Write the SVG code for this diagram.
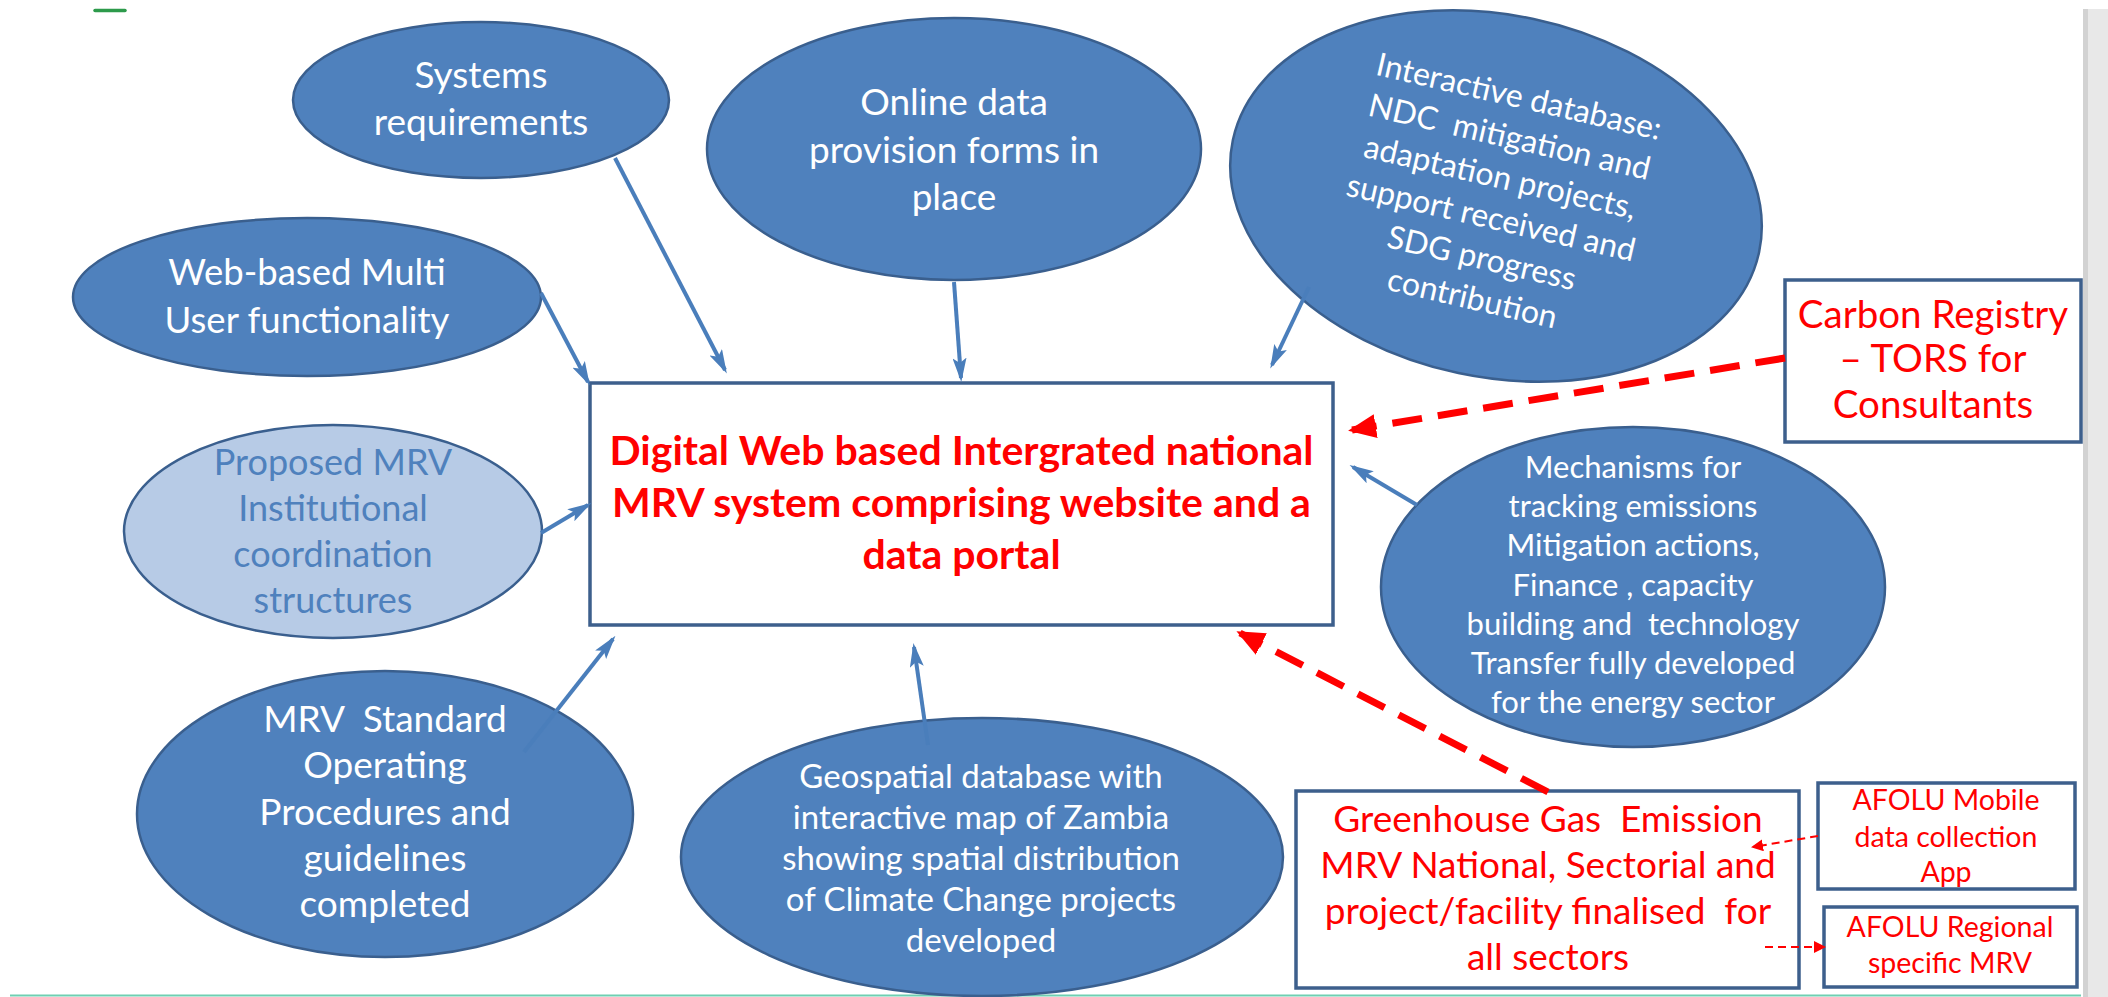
<svg xmlns="http://www.w3.org/2000/svg" width="2108" height="997" viewBox="0 0 2108 997">
<style>
.el{fill:#4f81bd;stroke:#3a5f8e;stroke-width:2.5}
.ell{fill:#b7cbe6;stroke:#3a5f8e;stroke-width:2.5}
.box{fill:#fff;stroke:#3d5f8c;stroke-width:3.5}
.t{font-family:Lato,'Liberation Sans',sans-serif;text-anchor:middle}
.w{fill:#ffffff}
.r{fill:#ff0000}
.lb{fill:#4f81bd}
.b{font-weight:bold}
.ba{stroke:#4a7ebb;stroke-width:4;fill:none}
.rd{stroke:#ff0000;stroke-width:7;fill:none;stroke-dasharray:30 16}
.rs{stroke:#ff0000;stroke-width:2;fill:none;stroke-dasharray:8 5}
</style>
<defs>
<marker id="ab" markerUnits="userSpaceOnUse" markerWidth="24" markerHeight="14" refX="20" refY="7" orient="auto"><path d="M0,0 L24,7 L0,14 L5,7 z" fill="#4a7ebb"/></marker>
<marker id="ar" markerUnits="userSpaceOnUse" markerWidth="28" markerHeight="24" refX="24" refY="12" orient="auto"><path d="M0,0 L28,12 L0,24 z" fill="#ff0000"/></marker>
<marker id="as" markerUnits="userSpaceOnUse" markerWidth="12" markerHeight="12" refX="10" refY="6" orient="auto"><path d="M0,0 L12,6 L0,12 z" fill="#ff0000"/></marker>
</defs>
<rect x="0" y="0" width="2108" height="997" fill="#ffffff"/>
<rect x="2083" y="9" width="25" height="988" fill="#e8e8e8"/>
<rect x="2083" y="9" width="5" height="988" fill="#d2d2d2"/>
<line x1="10" y1="995.5" x2="2081" y2="995.5" stroke="#6fcfb2" stroke-width="2"/>
<line x1="95" y1="10.5" x2="125" y2="10.5" stroke="#2d9a4b" stroke-width="3.5" stroke-linecap="round"/>

<g id="systems">
<ellipse class="el" cx="481" cy="100" rx="188" ry="78"/>
<text class="t w" font-size="37"><tspan x="481" y="88">Systems</tspan><tspan x="481" y="135">requirements</tspan></text>
</g>

<g id="online">
<ellipse class="el" cx="954" cy="149" rx="247" ry="131"/>
<text class="t w" font-size="37"><tspan x="954" y="115">Online data</tspan><tspan x="954" y="163">provision forms in</tspan><tspan x="954" y="210">place</tspan></text>
</g>

<g id="webbased">
<ellipse class="el" cx="307" cy="297" rx="234" ry="79"/>
<text class="t w" font-size="36.5"><tspan x="307" y="285">Web-based Multi</tspan><tspan x="307" y="333">User functionality</tspan></text>
</g>

<g id="interactive">
<ellipse class="el" cx="0" cy="0" rx="269" ry="181" transform="translate(1496,196) rotate(12)"/>
<text class="t w" font-size="32" transform="translate(1496,196) rotate(13)" xml:space="preserve"><tspan x="0" y="-91">Interactive database:</tspan><tspan x="0" y="-49.6">NDC  mitigation and</tspan><tspan x="0" y="-8.2">adaptation projects,</tspan><tspan x="0" y="33.2">support received and</tspan><tspan x="0" y="74.6">SDG progress</tspan><tspan x="0" y="116">contribution</tspan></text>
</g>

<g id="carbon">
<rect class="box" x="1785" y="280" width="296" height="162"/>
<text class="t r" font-size="38.5"><tspan x="1933" y="328">Carbon Registry</tspan><tspan x="1933" y="372">– TORS for</tspan><tspan x="1933" y="418">Consultants</tspan></text>
</g>

<g id="main">
<rect class="box" x="590" y="383" width="743" height="242"/>
<text class="t r b" font-size="41"><tspan x="961.5" y="465">Digital Web based Intergrated national</tspan><tspan x="961.5" y="517">MRV system comprising website and a</tspan><tspan x="961.5" y="569">data portal</tspan></text>
</g>

<g id="mechanisms">
<ellipse class="el" cx="1633" cy="587" rx="252" ry="160"/>
<text class="t w" font-size="31" xml:space="preserve"><tspan x="1633" y="478">Mechanisms for</tspan><tspan x="1633" y="517">tracking emissions</tspan><tspan x="1633" y="556">Mitigation actions,</tspan><tspan x="1633" y="596">Finance , capacity</tspan><tspan x="1633" y="635">building and  technology</tspan><tspan x="1633" y="674">Transfer fully developed</tspan><tspan x="1633" y="713">for the energy sector</tspan></text>
</g>

<g id="proposed">
<ellipse class="ell" cx="333" cy="531.5" rx="209" ry="106.5"/>
<text class="t lb" font-size="36"><tspan x="333" y="475">Proposed MRV</tspan><tspan x="333" y="521">Institutional</tspan><tspan x="333" y="567">coordination</tspan><tspan x="333" y="613">structures</tspan></text>
</g>

<g id="sop">
<ellipse class="el" cx="385" cy="814" rx="248" ry="143"/>
<text class="t w" font-size="37" xml:space="preserve"><tspan x="385" y="732">MRV  Standard</tspan><tspan x="385" y="778">Operating</tspan><tspan x="385" y="825">Procedures and</tspan><tspan x="385" y="871">guidelines</tspan><tspan x="385" y="917">completed</tspan></text>
</g>

<g id="geospatial">
<ellipse class="el" cx="982" cy="857" rx="301" ry="139"/>
<text class="t w" font-size="33"><tspan x="981" y="788">Geospatial database with</tspan><tspan x="981" y="829">interactive map of Zambia</tspan><tspan x="981" y="870">showing spatial distribution</tspan><tspan x="981" y="911">of Climate Change projects</tspan><tspan x="981" y="952">developed</tspan></text>
</g>

<g id="ghg">
<rect class="box" x="1296" y="791" width="503" height="197"/>
<text class="t r" font-size="37" xml:space="preserve"><tspan x="1548" y="832">Greenhouse Gas  Emission</tspan><tspan x="1548" y="878">MRV National, Sectorial and</tspan><tspan x="1548" y="924">project/facility finalised  for</tspan><tspan x="1548" y="970">all sectors</tspan></text>
</g>

<g id="afolu-mobile">
<rect class="box" x="1818" y="783" width="257" height="106"/>
<text class="t r" font-size="28.5"><tspan x="1946" y="810">AFOLU Mobile</tspan><tspan x="1946" y="847">data collection</tspan><tspan x="1946" y="882">App</tspan></text>
</g>

<g id="afolu-regional">
<rect class="box" x="1824" y="907" width="253" height="80"/>
<text class="t r" font-size="28.5"><tspan x="1950" y="937">AFOLU Regional</tspan><tspan x="1950" y="973">specific MRV</tspan></text>
</g>

<g id="connectors">
<line class="ba" x1="615" y1="158" x2="725" y2="370" marker-end="url(#ab)"/>
<line class="ba" x1="541" y1="293" x2="588" y2="382" marker-end="url(#ab)"/>
<line class="ba" x1="954" y1="282" x2="961" y2="378" marker-end="url(#ab)"/>
<line class="ba" x1="1309" y1="287" x2="1272" y2="365" marker-end="url(#ab)"/>
<line class="ba" x1="1417" y1="505" x2="1353" y2="467" marker-end="url(#ab)"/>
<line class="ba" x1="541" y1="533" x2="588" y2="505" marker-end="url(#ab)"/>
<line class="ba" x1="524" y1="752" x2="613" y2="639" marker-end="url(#ab)"/>
<line class="ba" x1="928" y1="745" x2="914" y2="647" marker-end="url(#ab)"/>
<line class="rd" x1="1785" y1="358" x2="1352" y2="430" marker-end="url(#ar)"/>
<line class="rd" x1="1548" y1="792" x2="1240" y2="633" marker-end="url(#ar)"/>
<line class="rs" x1="1818" y1="836" x2="1753" y2="847" marker-end="url(#as)"/>
<line class="rs" x1="1765" y1="947" x2="1824" y2="947" marker-end="url(#as)"/>
</g>
</svg>
